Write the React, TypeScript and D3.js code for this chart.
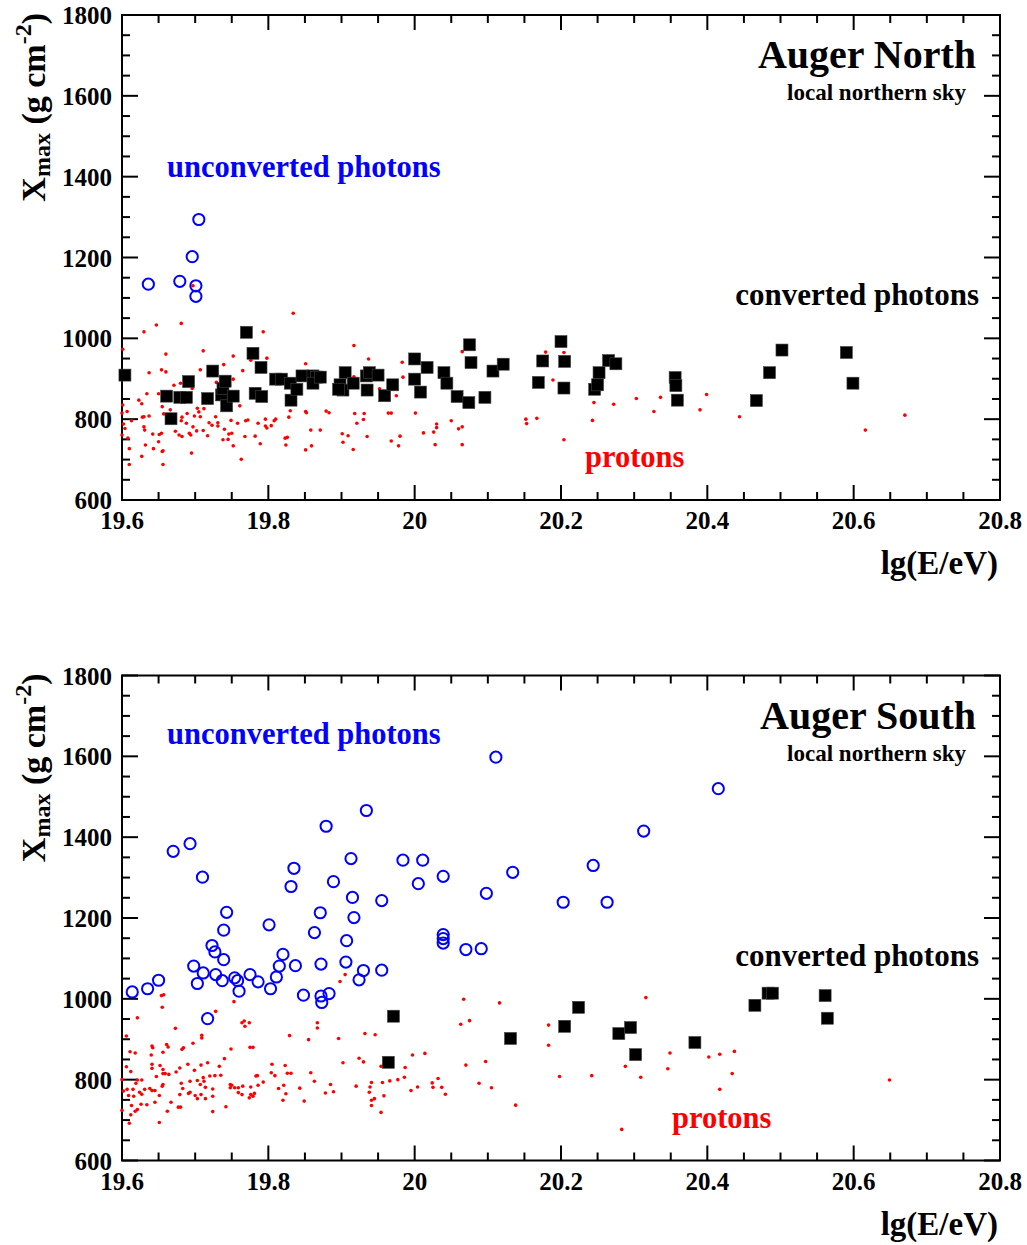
import React from "react";
import * as d3 from "d3";

// ---------- data ----------
const xMajorTicks = [19.6, 19.8, 20, 20.2, 20.4, 20.6, 20.8];
const yMajorTicks = [600, 800, 1000, 1200, 1400, 1600, 1800];

const northUnconverted: [number, number][] = [
  [19.636, 1134], [19.679, 1141], [19.696, 1202], [19.705, 1294], [19.701, 1130], [19.701, 1104],
];

const northConverted: [number, number][] = [
  [19.604, 909], [19.661, 857], [19.667, 801], [19.679, 854], [19.688, 854], [19.691, 893], [19.717, 851],
  [19.724, 919], [19.736, 860], [19.738, 876], [19.741, 894], [19.743, 833], [19.752, 857], [19.770, 1015],
  [19.779, 963], [19.782, 864], [19.790, 928], [19.791, 856], [19.810, 899], [19.818, 899], [19.830, 889],
  [19.831, 847], [19.839, 874], [19.846, 907], [19.861, 907], [19.866, 904], [19.861, 889], [19.871, 904],
  [19.905, 915], [19.898, 885], [19.902, 872], [19.896, 874], [19.916, 889], [19.934, 907], [19.938, 915],
  [19.950, 909], [19.935, 872], [19.959, 858], [19.970, 885], [20.000, 949], [20.000, 899], [20.017, 928],
  [20.008, 867], [20.040, 915], [20.044, 889], [20.075, 984], [20.077, 940], [20.058, 856], [20.074, 841],
  [20.096, 854], [20.107, 919], [20.121, 936], [20.169, 891], [20.175, 944], [20.200, 992], [20.205, 943],
  [20.204, 877], [20.246, 874], [20.250, 885], [20.252, 915], [20.265, 945], [20.275, 937], [20.356, 903],
  [20.357, 883], [20.359, 847], [20.467, 846], [20.485, 915], [20.502, 971], [20.590, 965], [20.599, 889],
];

const northProtons: [number, number][] = [
  [19.601, 973], [19.834, 1062], [19.647, 1033], [19.681, 1037], [19.630, 1016], [19.793, 1016], [19.660, 961],
  [19.711, 969], [19.798, 951], [19.637, 915], [19.654, 922], [19.660, 917], [19.707, 922], [19.739, 935],
  [19.752, 956], [19.765, 920], [19.776, 946], [19.851, 937], [19.680, 889], [19.671, 884], [19.696, 876],
  [19.729, 891], [19.752, 899], [19.634, 863], [19.650, 863], [19.623, 847], [19.627, 838], [19.601, 835],
  [19.607, 819], [19.655, 831], [19.666, 823], [19.657, 813], [19.671, 794], [19.682, 805], [19.689, 814],
  [19.703, 827], [19.705, 818], [19.707, 806], [19.699, 808], [19.712, 826], [19.697, 781], [19.688, 790],
  [19.681, 796], [19.673, 770], [19.678, 761], [19.682, 757], [19.692, 765], [19.694, 761], [19.702, 771],
  [19.711, 772], [19.717, 759], [19.728, 806], [19.723, 785], [19.731, 791], [19.719, 791], [19.731, 783],
  [19.740, 775], [19.746, 763], [19.745, 750], [19.738, 749], [19.750, 765], [19.749, 797], [19.752, 734],
  [19.761, 833], [19.758, 790], [19.768, 757], [19.769, 796], [19.772, 798], [19.786, 790], [19.796, 800],
  [19.796, 783], [19.798, 778], [19.804, 784], [19.782, 758], [19.789, 739], [19.808, 796], [19.810, 800],
  [19.823, 753], [19.826, 755], [19.824, 736], [19.828, 805], [19.830, 821], [19.851, 819], [19.852, 816],
  [19.858, 773], [19.871, 773], [19.879, 820], [19.883, 816], [19.851, 724], [19.859, 734], [19.763, 701],
  [19.695, 716], [19.656, 688], [19.655, 720], [19.656, 722], [19.643, 727], [19.632, 736], [19.627, 708],
  [19.610, 727], [19.610, 688], [19.602, 788], [19.604, 777], [19.600, 761], [19.608, 753], [19.613, 796],
  [19.630, 806], [19.628, 805], [19.637, 808], [19.630, 781], [19.631, 773], [19.642, 763], [19.651, 762],
  [19.650, 744], [19.654, 765], [19.600, 815], [19.697, 1130],
  [19.917, 982], [19.937, 949], [19.983, 941], [19.984, 904], [19.952, 875], [19.975, 858], [20.065, 967],
  [19.917, 905], [19.918, 814], [19.931, 814], [19.930, 799], [19.921, 790], [19.901, 764], [19.909, 759],
  [19.902, 743], [19.916, 725], [19.935, 757], [19.964, 815], [19.968, 815], [20.001, 815], [19.968, 746],
  [19.980, 758], [19.978, 734], [20.012, 766], [20.030, 788], [20.030, 779], [20.026, 768], [20.028, 737],
  [20.050, 796], [20.060, 776], [20.065, 781], [20.065, 737], [20.152, 800], [20.153, 789], [20.167, 802],
  [20.179, 966], [20.189, 897], [20.204, 965], [20.204, 749],
  [20.245, 841], [20.243, 797], [20.272, 837], [20.303, 851], [20.327, 819], [20.336, 854], [20.390, 823],
  [20.399, 861], [20.444, 806], [20.616, 773], [20.670, 810],
];

const southUnconverted: [number, number][] = [
  [19.614, 1017], [19.635, 1025], [19.650, 1046], [19.670, 1365], [19.693, 1384], [19.710, 1301], [19.698, 1081],
  [19.703, 1038], [19.711, 1064], [19.717, 951], [19.723, 1132], [19.727, 1116], [19.728, 1060], [19.737, 1045],
  [19.739, 1097], [19.739, 1170], [19.743, 1214], [19.754, 1052], [19.758, 1045], [19.760, 1019], [19.775, 1060],
  [19.786, 1042], [19.801, 1183], [19.803, 1025], [19.811, 1054], [19.815, 1081], [19.820, 1110], [19.831, 1278],
  [19.835, 1323], [19.837, 1082], [19.848, 1009], [19.863, 1164], [19.871, 1213], [19.872, 1086], [19.872, 1007],
  [19.873, 991], [19.879, 1427], [19.883, 1013], [19.889, 1290], [19.906, 1091], [19.907, 1144], [19.913, 1347],
  [19.915, 1251], [19.917, 1201], [19.924, 1047], [19.930, 1070], [19.934, 1466], [19.955, 1243], [19.955, 1071],
  [19.984, 1343], [20.011, 1343], [20.005, 1285], [20.039, 1303], [20.039, 1159], [20.039, 1149], [20.039, 1138],
  [20.070, 1122], [20.091, 1124], [20.098, 1261], [20.111, 1598], [20.134, 1313], [20.203, 1239], [20.244, 1330],
  [20.263, 1239], [20.313, 1415], [20.415, 1520],
];

const southConverted: [number, number][] = [
  [19.971, 957], [19.964, 843], [20.131, 902], [20.205, 932], [20.224, 979], [20.279, 914], [20.295, 929],
  [20.302, 862], [20.383, 892], [20.465, 984], [20.483, 1014], [20.489, 1014], [20.561, 1008], [20.564, 952],
];

const southProtons: [number, number][] = [
  [19.600, 800], [19.606, 908], [19.611, 869], [19.618, 866], [19.621, 953], [19.606, 832], [19.612, 820],
  [19.602, 772], [19.607, 776], [19.609, 761], [19.600, 724], [19.613, 736], [19.615, 776], [19.616, 759],
  [19.619, 791], [19.621, 799], [19.627, 799], [19.624, 769], [19.627, 764], [19.631, 776], [19.618, 722],
  [19.621, 726], [19.612, 713], [19.610, 692], [19.626, 739], [19.634, 738], [19.641, 883], [19.642, 879],
  [19.640, 861], [19.641, 838], [19.641, 828], [19.647, 808], [19.638, 778], [19.641, 773], [19.645, 773],
  [19.645, 744], [19.651, 761], [19.651, 694], [19.654, 1008], [19.657, 1010], [19.655, 979], [19.656, 868],
  [19.661, 887], [19.663, 881], [19.652, 835], [19.656, 825], [19.656, 815], [19.659, 815], [19.664, 813],
  [19.656, 788], [19.655, 784], [19.662, 722], [19.667, 744], [19.673, 927], [19.674, 819], [19.679, 829],
  [19.677, 732], [19.680, 732], [19.681, 791], [19.683, 778], [19.682, 875], [19.684, 879], [19.679, 763],
  [19.690, 838], [19.693, 796], [19.691, 766], [19.693, 769], [19.697, 890], [19.699, 823], [19.700, 761],
  [19.703, 753], [19.703, 798], [19.708, 836], [19.707, 788], [19.708, 763], [19.709, 910], [19.709, 903],
  [19.712, 796], [19.711, 805], [19.714, 781], [19.714, 753], [19.717, 842], [19.720, 809], [19.724, 777],
  [19.724, 759], [19.724, 721], [19.727, 810], [19.733, 833], [19.735, 811], [19.728, 969], [19.740, 852],
  [19.742, 733], [19.748, 788], [19.749, 876], [19.750, 786], [19.748, 780], [19.753, 993], [19.754, 780],
  [19.759, 780], [19.759, 768], [19.764, 763], [19.765, 784], [19.764, 941], [19.767, 945], [19.768, 932],
  [19.774, 941], [19.775, 880], [19.779, 880], [19.774, 755], [19.776, 782], [19.776, 763], [19.779, 759],
  [19.781, 766], [19.783, 809], [19.785, 810], [19.786, 786], [19.793, 794], [19.804, 817], [19.805, 838],
  [19.809, 810], [19.814, 778], [19.820, 749], [19.821, 786], [19.824, 765], [19.823, 835], [19.826, 816],
  [19.831, 816], [19.829, 909], [19.843, 779], [19.849, 747], [19.855, 899], [19.858, 817], [19.863, 796],
  [19.867, 941], [19.867, 928], [19.878, 767], [19.885, 788],
  [19.905, 1060], [19.898, 1043], [19.896, 902], [19.902, 842], [19.932, 914], [19.946, 911], [19.924, 853],
  [19.930, 844], [19.889, 770], [19.920, 784], [19.939, 782], [19.941, 793], [19.938, 769], [19.941, 749],
  [19.945, 753], [19.941, 736], [19.954, 719], [19.958, 760], [19.956, 793], [19.966, 797], [19.977, 800],
  [19.986, 806], [19.987, 830], [19.954, 833], [19.997, 861], [20.014, 865], [19.995, 773], [20.004, 782],
  [20.032, 803], [20.024, 792], [20.025, 781], [20.037, 781], [20.042, 764], [20.067, 999], [20.063, 937],
  [20.075, 946], [20.070, 836], [20.097, 845], [20.088, 791], [20.105, 780], [20.116, 990], [20.138, 737],
  [20.183, 935], [20.183, 885], [20.198, 808],
  [20.242, 810], [20.316, 1003], [20.288, 833], [20.309, 806], [20.349, 866], [20.346, 827], [20.402, 856],
  [20.417, 863], [20.437, 870], [20.434, 815], [20.417, 776], [20.283, 677], [20.649, 799],
];

// ---------- layout ----------
const W = 1027;
const H = 1245;
const LEFT = 122;
const RIGHT = 1000;
const FONT = "'Liberation Serif', 'Times New Roman', Times, serif";
const BLUE = "#0000ff";
const RED = "#ff0000";

type PanelProps = {
  top: number;
  bottom: number;
  title: string;
  protons: [number, number][];
  converted: [number, number][];
  unconverted: [number, number][];
  labels: { unconvY: number; convY: number; protX: number; protY: number };
};

function Panel({ top, bottom, title, protons, converted, unconverted, labels }: PanelProps) {
  const x = d3.scaleLinear().domain([19.6, 20.8]).range([LEFT, RIGHT]);
  const y = d3.scaleLinear().domain([600, 1800]).range([bottom, top]);
  const xMinor = d3
    .range(0, 25)
    .map((i) => 19.6 + i * 0.05)
    .filter((v) => Math.abs((v - 19.6) / 0.2 - Math.round((v - 19.6) / 0.2)) > 1e-6);
  const yMinor = d3
    .range(0, 25)
    .map((i) => 600 + i * 50)
    .filter((v) => v % 200 !== 0);
  const sq = 12;
  return (
    <g>
      <rect x={LEFT} y={top} width={RIGHT - LEFT} height={bottom - top} fill="none" stroke="#000" strokeWidth={2} />
      {xMajorTicks.map((v) => (
        <g key={"xM" + v}>
          <line x1={x(v)} x2={x(v)} y1={bottom} y2={bottom - 15} stroke="#000" strokeWidth={2} />
          <line x1={x(v)} x2={x(v)} y1={top} y2={top + 15} stroke="#000" strokeWidth={2} />
          <text x={x(v)} y={bottom + 29} textAnchor="middle" fontFamily={FONT} fontWeight="bold" fontSize={25}>
            {String(v)}
          </text>
        </g>
      ))}
      {xMinor.map((v) => (
        <g key={"xm" + v}>
          <line x1={x(v)} x2={x(v)} y1={bottom} y2={bottom - 8} stroke="#000" strokeWidth={2} />
          <line x1={x(v)} x2={x(v)} y1={top} y2={top + 8} stroke="#000" strokeWidth={2} />
        </g>
      ))}
      {yMajorTicks.map((v) => (
        <g key={"yM" + v}>
          <line x1={LEFT} x2={LEFT + 16} y1={y(v)} y2={y(v)} stroke="#000" strokeWidth={2} />
          <line x1={RIGHT} x2={RIGHT - 16} y1={y(v)} y2={y(v)} stroke="#000" strokeWidth={2} />
          <text x={112} y={y(v) + 9} textAnchor="end" fontFamily={FONT} fontWeight="bold" fontSize={25}>
            {String(v)}
          </text>
        </g>
      ))}
      {yMinor.map((v) => (
        <g key={"ym" + v}>
          <line x1={LEFT} x2={LEFT + 8} y1={y(v)} y2={y(v)} stroke="#000" strokeWidth={2} />
          <line x1={RIGHT} x2={RIGHT - 8} y1={y(v)} y2={y(v)} stroke="#000" strokeWidth={2} />
        </g>
      ))}
      <text x={998} y={bottom + 74} textAnchor="end" fontFamily={FONT} fontWeight="bold" fontSize={33}>
        lg(E/eV)
      </text>
      <text
        transform={`translate(45, ${top - 2}) rotate(-90)`}
        textAnchor="end"
        fontFamily={FONT}
        fontWeight="bold"
        fontSize={34}
      >
        X<tspan fontSize={24} dy={5}>max</tspan>
        <tspan dy={-5}> (g cm</tspan>
        <tspan fontSize={24} dy={-14}>-2</tspan>
        <tspan dy={14}>)</tspan>
      </text>
      {protons.map((d, i) => (
        <circle key={"p" + i} cx={x(d[0])} cy={y(d[1])} r={1.8} fill={RED} />
      ))}
      {converted.map((d, i) => (
        <rect
          key={"c" + i}
          x={x(d[0]) - sq / 2}
          y={y(d[1]) - sq / 2}
          width={sq}
          height={sq}
          fill="#000"
          stroke="#444"
          strokeWidth={0.6}
        />
      ))}
      {unconverted.map((d, i) => (
        <circle key={"u" + i} cx={x(d[0])} cy={y(d[1])} r={5.6} fill="none" stroke={BLUE} strokeWidth={2} />
      ))}
      <text x={976} y={top + 53} textAnchor="end" fontFamily={FONT} fontWeight="bold" fontSize={40}>
        {title}
      </text>
      <text x={966} y={top + 85} textAnchor="end" fontFamily={FONT} fontWeight="bold" fontSize={23}>
        local northern sky
      </text>
      <text x={167} y={labels.unconvY} fontFamily={FONT} fontWeight="bold" fontSize={30.5} fill={BLUE}>
        unconverted photons
      </text>
      <text x={979} y={labels.convY} textAnchor="end" fontFamily={FONT} fontWeight="bold" fontSize={31}>
        converted photons
      </text>
      <text x={labels.protX} y={labels.protY} fontFamily={FONT} fontWeight="bold" fontSize={30.5} fill={RED}>
        protons
      </text>
    </g>
  );
}

export default function App() {
  return (
    <svg width={W} height={H} style={{ position: "absolute", left: 0, top: 0, background: "#fff" }}>
      <rect width={W} height={H} fill="#fff" />
      <Panel
        top={15}
        bottom={500}
        title="Auger North"
        protons={northProtons}
        converted={northConverted}
        unconverted={northUnconverted}
        labels={{ unconvY: 177, convY: 305, protX: 585, protY: 467 }}
      />
      <Panel
        top={675.5}
        bottom={1160.5}
        title="Auger South"
        protons={southProtons}
        converted={southConverted}
        unconverted={southUnconverted}
        labels={{ unconvY: 744, convY: 966, protX: 672, protY: 1128 }}
      />
    </svg>
  );
}
